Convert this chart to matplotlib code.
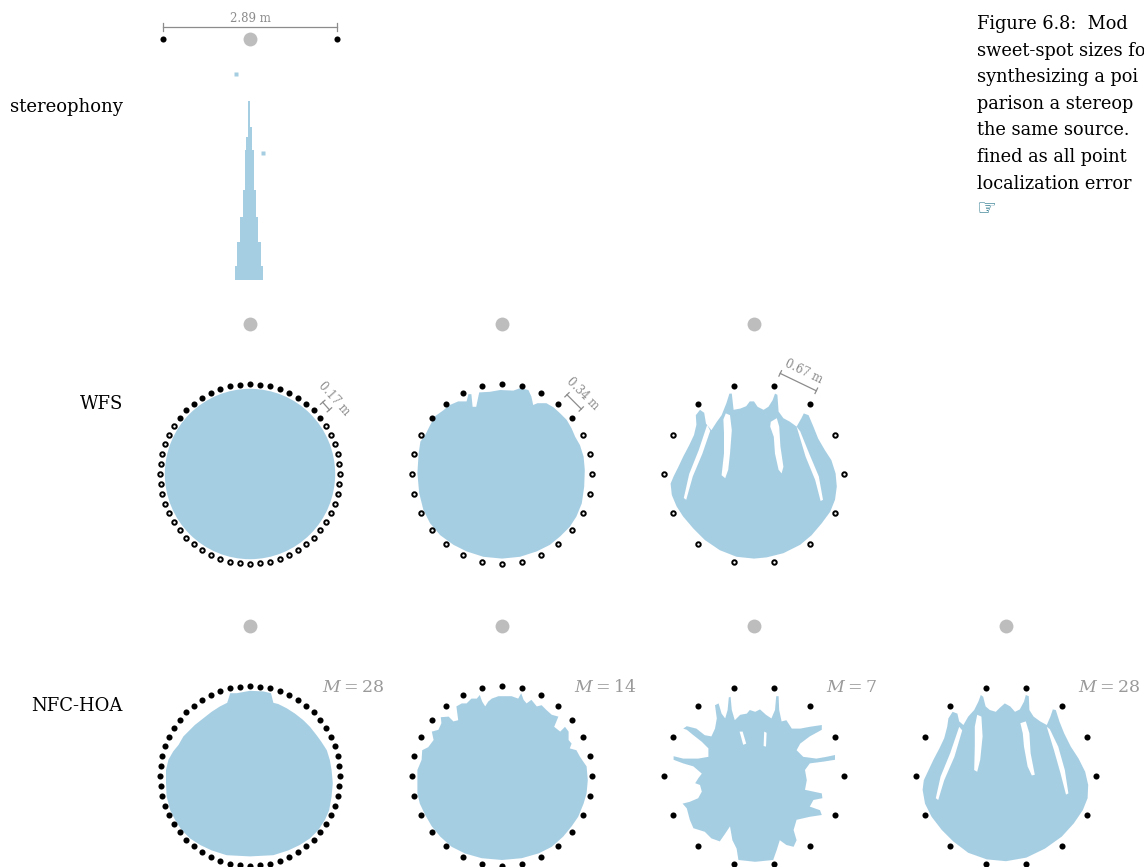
import numpy as np
import matplotlib
matplotlib.use("Agg")
import matplotlib.pyplot as plt

W, H, DPI = 1144, 867, 100
PX = 60.0  # pixels per metre

BLUE = '#a6cee3'
GREY_SRC = '#bdbdbd'
GREY_TXT = '#8c8c8c'
GREY_M = '#9a9a9a'
SERIF = ['DejaVu Serif']

# ---------------- data ----------------
ROW_LABELS = ['stereophony', 'WFS', 'NFC-HOA']
R_ARRAY = 1.5
SOURCE = (0.0, 2.5)

STEREO_SPK_X = [-1.445, 1.445]
STEREO_SPK_Y = 2.5
STEREO_LABEL = '2.89 m'
STEREO_BAND_TOP = [1.46, 1.04, 0.87, 0.65, -0.02, -0.46, -0.88, -1.29]
STEREO_BOTTOM = -1.52
STEREO_LEFT = [-0.04, -0.04, -0.06, -0.08, -0.12, -0.17, -0.21, -0.25]
STEREO_RIGHT = [0.00, 0.03, 0.04, 0.07, 0.10, 0.13, 0.18, 0.22]
STEREO_DOTS_X = [-0.23, 0.21]
STEREO_DOTS_Y = [1.92, 0.60]

WFS_N = [56, 28, 14]
WFS_SPACING = ['0.17 m', '0.34 m', '0.67 m']
WFS_DIM_PAIR = [6, 3, 2]

HOA_N = [56, 28, 14, 14]
HOA_M = [28, 14, 7, 28]

WFS56_RADIUS = 1.42

WFS28_BLOB = [(-1.41, 0.01), (-1.39, 0.34), (-1.36, 0.54), (-1.28, 0.65), (-1.21, 0.79),
              (-1.12, 0.96), (-0.98, 1.06), (-0.87, 1.15), (-0.73, 1.21), (-0.59, 1.21),
              (-0.56, 1.33), (-0.51, 1.33), (-0.49, 1.12), (-0.43, 1.12), (-0.38, 1.36),
              (-0.20, 1.37), (-0.03, 1.40), (0.19, 1.39), (0.30, 1.43), (0.44, 1.40),
              (0.49, 1.29), (0.52, 1.15), (0.59, 1.18), (0.74, 1.18), (0.86, 1.11),
              (0.97, 1.01), (1.08, 0.90), (1.16, 0.76), (1.22, 0.62), (1.30, 0.48),
              (1.36, 0.29), (1.38, 0.07), (1.37, -0.21), (1.33, -0.49), (1.24, -0.71),
              (1.13, -0.88), (0.97, -1.04), (0.80, -1.18), (0.58, -1.29), (0.30, -1.38),
              (0.00, -1.41), (-0.31, -1.38), (-0.59, -1.29), (-0.81, -1.18), (-1.03, -1.02),
              (-1.20, -0.82), (-1.31, -0.60), (-1.38, -0.32)]

WFS14_BLOB = [(0.00, -1.41), (-0.29, -1.38), (-0.57, -1.27), (-0.82, -1.10), (-1.01, -0.91),
              (-1.18, -0.71), (-1.29, -0.54), (-1.37, -0.35), (-1.39, -0.16), (-1.34, -0.04),
              (-1.26, 0.12), (-1.18, 0.29), (-1.08, 0.48), (-1.00, 0.65), (-0.96, 0.82),
              (-0.97, 0.98), (-0.90, 1.07), (-0.83, 1.02), (-0.80, 0.84), (-0.71, 0.73),
              (-0.62, 0.87), (-0.54, 0.98), (-0.46, 1.18), (-0.41, 1.34), (-0.37, 1.34),
              (-0.34, 1.07), (-0.23, 1.09), (-0.13, 1.13), (-0.07, 1.21), (0.00, 1.21),
              (0.06, 1.12), (0.16, 1.07), (0.24, 1.12), (0.31, 1.23), (0.35, 1.34),
              (0.39, 1.32), (0.41, 1.04), (0.49, 0.93), (0.60, 0.87), (0.71, 0.79),
              (0.79, 0.93), (0.83, 1.01), (0.91, 0.98), (0.99, 0.79), (1.07, 0.59),
              (1.18, 0.40), (1.29, 0.23), (1.36, 0.01), (1.38, -0.21), (1.35, -0.43),
              (1.27, -0.63), (1.13, -0.82), (0.96, -1.02), (0.77, -1.18), (0.49, -1.32),
              (0.21, -1.39)]
WFS14_HOLES = [
    [(-0.47, 1.01), (-0.40, 0.98), (-0.37, 0.73), (-0.40, 0.34), (-0.43, 0.07),
     (-0.48, -0.07), (-0.54, -0.02), (-0.50, 0.34), (-0.50, 0.68), (-0.51, 0.91)],
    [(0.28, 0.87), (0.38, 0.93), (0.42, 0.79), (0.44, 0.46), (0.49, 0.12),
     (0.46, 0.01), (0.41, 0.07), (0.35, 0.34), (0.33, 0.62), (0.27, 0.79)],
    [(-0.78, 0.82), (-0.73, 0.72), (-0.86, 0.34), (-1.02, -0.04), (-1.13, -0.43),
     (-1.17, -0.40), (-1.08, 0.00), (-0.92, 0.40)],
    [(0.71, 0.79), (0.77, 0.71), (0.92, 0.34), (1.08, -0.04), (1.15, -0.43),
     (1.11, -0.45), (1.02, -0.10), (0.86, 0.29)],
]

HOA56_BLOB = [(0.00, 1.42), (-0.22, 1.38), (-0.33, 1.38), (-0.38, 1.22), (-0.50, 1.16),
              (-0.64, 1.07), (-0.78, 0.96), (-0.92, 0.85), (-1.00, 0.77), (-1.11, 0.66),
              (-1.19, 0.52), (-1.28, 0.41), (-1.36, 0.27), (-1.40, 0.10), (-1.40, -0.12),
              (-1.39, -0.34), (-1.33, -0.57), (-1.25, -0.73), (-1.14, -0.90), (-1.00, -1.04),
              (-0.83, -1.15), (-0.64, -1.24), (-0.39, -1.32), (0.00, -1.34), (0.39, -1.32),
              (0.64, -1.24), (0.83, -1.15), (1.00, -1.04), (1.14, -0.90), (1.25, -0.73),
              (1.32, -0.57), (1.36, -0.34), (1.38, -0.12), (1.36, 0.10), (1.33, 0.27),
              (1.28, 0.43), (1.19, 0.57), (1.11, 0.68), (1.00, 0.82), (0.89, 0.93),
              (0.75, 1.04), (0.61, 1.13), (0.47, 1.20), (0.39, 1.22), (0.35, 1.38),
              (0.22, 1.41)]

HOA28_BLOB = [(-1.41, -0.29), (-1.41, 0.10), (-1.34, 0.27), (-1.33, 0.43), (-1.23, 0.48),
              (-1.14, 0.60), (-1.17, 0.74), (-1.06, 0.77), (-1.01, 0.88), (-1.02, 0.98),
              (-0.89, 0.99), (-0.81, 0.91), (-0.73, 0.93), (-0.76, 1.16), (-0.67, 1.21),
              (-0.59, 1.21), (-0.51, 1.29), (-0.42, 1.29), (-0.37, 1.35), (-0.33, 1.24),
              (-0.28, 1.16), (-0.23, 1.24), (-0.17, 1.29), (-0.06, 1.33), (0.16, 1.33),
              (0.27, 1.29), (0.32, 1.38), (0.36, 1.27), (0.41, 1.21), (0.49, 1.27),
              (0.58, 1.16), (0.66, 1.18), (0.74, 1.10), (0.83, 1.02), (0.94, 0.99),
              (0.87, 0.82), (0.97, 0.74), (1.05, 0.82), (1.11, 0.74), (1.11, 0.60),
              (1.16, 0.54), (1.13, 0.46), (1.24, 0.43), (1.30, 0.32), (1.41, 0.16),
              (1.43, -0.07), (1.41, -0.29), (1.36, -0.46), (1.27, -0.68), (1.16, -0.84),
              (1.02, -1.01), (0.83, -1.18), (0.61, -1.29), (0.33, -1.37), (0.00, -1.40),
              (-0.34, -1.37), (-0.62, -1.29), (-0.84, -1.18), (-1.03, -1.01), (-1.17, -0.84),
              (-1.28, -0.65), (-1.37, -0.46)]

HOA14_M7_BLOB = [(0.02, -1.43), (-0.26, -1.40), (-0.29, -1.21), (-0.36, -1.07), (-0.40, -0.84),
                 (-0.48, -0.96), (-0.57, -1.09), (-0.71, -1.04), (-0.82, -0.93), (-1.01, -0.87),
                 (-1.07, -0.73), (-1.12, -0.54), (-1.19, -0.46), (-1.07, -0.43), (-0.93, -0.37),
                 (-0.87, -0.26), (-0.90, -0.15), (-0.98, -0.12), (-0.93, -0.04), (-0.87, 0.04),
                 (-1.01, 0.16), (-1.18, 0.21), (-1.34, 0.27), (-1.34, 0.33), (-1.18, 0.29),
                 (-0.93, 0.29), (-0.76, 0.32), (-0.76, 0.46), (-0.87, 0.57), (-1.01, 0.68),
                 (-1.12, 0.77), (-1.18, 0.79), (-1.12, 0.83), (-0.96, 0.79), (-0.82, 0.68),
                 (-0.71, 0.66), (-0.65, 0.79), (-0.62, 0.96), (-0.65, 1.18), (-0.59, 1.21),
                 (-0.54, 1.04), (-0.48, 0.96), (-0.44, 1.10), (-0.42, 1.31), (-0.39, 1.32),
                 (-0.37, 1.10), (-0.32, 0.93), (-0.23, 1.02), (-0.12, 1.04), (-0.07, 1.10),
                 (0.02, 1.07), (0.10, 1.11), (0.20, 1.02), (0.29, 0.96), (0.35, 1.10),
                 (0.37, 1.33), (0.41, 1.33), (0.42, 1.10), (0.46, 0.91), (0.54, 0.93),
                 (0.63, 0.79), (0.77, 0.79), (0.93, 0.82), (1.13, 0.85), (1.13, 0.77),
                 (0.93, 0.66), (0.77, 0.54), (0.71, 0.43), (0.82, 0.32), (1.04, 0.29),
                 (1.21, 0.32), (1.35, 0.35), (1.35, 0.27), (1.16, 0.24), (0.93, 0.21),
                 (0.85, 0.10), (0.88, -0.07), (0.85, -0.23), (0.99, -0.26), (1.13, -0.29),
                 (1.14, -0.37), (0.99, -0.40), (0.93, -0.51), (1.10, -0.57), (1.13, -0.65),
                 (0.93, -0.68), (0.71, -0.73), (0.66, -0.90), (0.71, -1.07), (0.66, -1.18),
                 (0.54, -1.15), (0.43, -1.07), (0.38, -1.23), (0.32, -1.40)]
HOA14_M7_HOLES = [
    [(-0.24, 0.74), (-0.19, 0.74), (-0.13, 0.54), (-0.18, 0.52)],
    [(0.17, 0.74), (0.21, 0.72), (0.20, 0.49), (0.16, 0.50)],
]

HOA14_M28_BLOB = [(0.00, -1.42), (-0.32, -1.39), (-0.63, -1.28), (-0.88, -1.09), (-1.07, -0.90),
                  (-1.24, -0.68), (-1.35, -0.46), (-1.39, -0.23), (-1.37, -0.07), (-1.29, 0.10),
                  (-1.21, 0.27), (-1.11, 0.46), (-1.03, 0.63), (-0.98, 0.82), (-0.96, 0.96),
                  (-0.89, 1.07), (-0.81, 1.04), (-0.78, 0.91), (-0.71, 0.85), (-0.63, 0.99),
                  (-0.53, 1.10), (-0.46, 1.24), (-0.42, 1.35), (-0.38, 1.32), (-0.34, 1.16),
                  (-0.27, 1.10), (-0.17, 1.07), (-0.10, 1.14), (-0.02, 1.21), (0.07, 1.16),
                  (0.15, 1.07), (0.23, 1.11), (0.30, 1.24), (0.33, 1.35), (0.38, 1.33),
                  (0.39, 1.10), (0.46, 0.99), (0.57, 0.91), (0.68, 0.85), (0.74, 0.99),
                  (0.78, 1.11), (0.83, 1.10), (0.89, 0.91), (0.97, 0.71), (1.08, 0.49),
                  (1.21, 0.29), (1.32, 0.07), (1.37, -0.15), (1.36, -0.37), (1.28, -0.57),
                  (1.13, -0.79), (0.93, -1.01), (0.65, -1.21), (0.34, -1.36)]
HOA14_M28_HOLES = [
    [(-0.48, 1.02), (-0.41, 0.99), (-0.39, 0.66), (-0.43, 0.27), (-0.48, 0.07),
     (-0.53, 0.10), (-0.52, 0.49), (-0.52, 0.82)],
    [(0.24, 0.88), (0.33, 0.91), (0.39, 0.71), (0.41, 0.38), (0.48, 0.02),
     (0.43, 0.01), (0.36, 0.16), (0.30, 0.49), (0.28, 0.71)],
    [(-0.78, 0.82), (-0.73, 0.76), (-0.86, 0.32), (-1.03, -0.07), (-1.13, -0.40),
     (-1.17, -0.37), (-1.09, -0.01), (-0.93, 0.38)],
    [(0.68, 0.82), (0.73, 0.78), (0.87, 0.49), (0.98, 0.10), (1.04, -0.29),
     (1.00, -0.31), (0.91, 0.04), (0.80, 0.43)],
]

# caption as visible in the reference (cut by the figure's right edge)
CAPTION_LINES = ['Figure 6.8:  Mod',
                 'sweet-spot sizes fo',
                 'synthesizing a poi',
                 'parison a stereop',
                 'the same source.',
                 'fined as all point',
                 'localization error']

# ---------------- layout (pixels) ----------------
STEREO_C = (250, 189)
WFS_CX = [250, 502, 754]
WFS_CY = 474
HOA_CX = [250, 502, 754, 1006]
HOA_CY = 776

plt.rcParams['mathtext.fontset'] = 'dejavuserif'
fig = plt.figure(figsize=(W / DPI, H / DPI), dpi=DPI)
fig.patch.set_facecolor('white')


def ftext(xp, yp, s, **kw):
    return fig.text(xp / W, 1 - yp / H, s, **kw)


def panel(cx, cy, half=2.1, top=2.9, bottom=-1.7):
    wpx = 2 * half * PX
    hpx = (top - bottom) * PX
    left = cx - half * PX
    toppx = cy - top * PX
    ax = fig.add_axes([left / W, 1 - (toppx + hpx) / H, wpx / W, hpx / H])
    ax.set_xlim(-half, half)
    ax.set_ylim(bottom, top)
    ax.set_aspect('equal')
    ax.axis('off')
    return ax


def speakers(N):
    phi = 2 * np.pi * np.arange(N) / N
    return R_ARRAY * np.cos(phi), R_ARRAY * np.sin(phi)


def draw_source(ax):
    ax.plot([SOURCE[0]], [SOURCE[1]], 'o', ms=10, color=GREY_SRC, mec='none', clip_on=False, zorder=5)


def draw_poly(ax, pts, color):
    xs, ys = zip(*pts)
    ax.fill(xs, ys, color=color, lw=0, zorder=2 if color == BLUE else 3)


def draw_filled(ax, x, y):
    ax.plot(x, y, 'o', ms=4.4, color='black', mec='black', mew=0, ls='none', zorder=6, clip_on=False)


def draw_hollow(ax, x, y):
    ax.plot(x, y, 'o', ms=3.2, mfc='white', mec='black', mew=1.4, ls='none', zorder=6, clip_on=False)


# ---------------- stereophony ----------------
ax = panel(*STEREO_C, top=3.1)
edges = STEREO_BAND_TOP + [STEREO_BOTTOM]
poly = []
for i, xl in enumerate(STEREO_LEFT):
    poly += [(xl, edges[i]), (xl, edges[i + 1])]
for i in range(len(STEREO_RIGHT) - 1, -1, -1):
    poly += [(STEREO_RIGHT[i], edges[i + 1]), (STEREO_RIGHT[i], edges[i])]
draw_poly(ax, poly, BLUE)
ax.plot(STEREO_DOTS_X, STEREO_DOTS_Y, 's', ms=2.5, color=BLUE, mec='none', zorder=2)
draw_source(ax)
draw_filled(ax, STEREO_SPK_X, [STEREO_SPK_Y] * 2)
yb = STEREO_SPK_Y + 0.2
ax.plot(STEREO_SPK_X, [yb, yb], color=GREY_TXT, lw=0.9, clip_on=False)
for xs in STEREO_SPK_X:
    ax.plot([xs, xs], [yb - 0.06, yb + 0.06], color=GREY_TXT, lw=0.9, clip_on=False)
ax.text(0, yb + 0.04, STEREO_LABEL, ha='center', va='bottom', color=GREY_TXT,
        fontsize=8.5, family=SERIF, clip_on=False)

# ---------------- WFS ----------------
wfs_blobs = [None, WFS28_BLOB, WFS14_BLOB]
wfs_holes = [[], [], WFS14_HOLES]
for j, N in enumerate(WFS_N):
    ax = panel(WFS_CX[j], WFS_CY)
    if j == 0:
        ax.add_patch(plt.Circle((0, 0), WFS56_RADIUS, color=BLUE, lw=0, zorder=2))
    else:
        draw_poly(ax, wfs_blobs[j], BLUE)
    for h in wfs_holes[j]:
        draw_poly(ax, h, 'white')
    draw_source(ax)
    x, y = speakers(N)
    # active loudspeakers of WFS: those facing the virtual point source
    active = (x * SOURCE[0] + y * SOURCE[1]) > R_ARRAY ** 2
    draw_filled(ax, x[active], y[active])
    draw_hollow(ax, x[~active], y[~active])
    # loudspeaker spacing annotation
    k = WFS_DIM_PAIR[j]
    p1 = np.array([x[k], y[k]])
    p2 = np.array([x[k + 1], y[k + 1]])
    mid = (p1 + p2) / 2
    u = mid / np.linalg.norm(mid)
    shift = (1.70 - np.linalg.norm(mid)) * u
    a, b = p1 + shift, p2 + shift
    ax.plot([a[0], b[0]], [a[1], b[1]], color=GREY_TXT, lw=0.9, clip_on=False)
    for e in (a, b):
        ax.plot([e[0] - 0.05 * u[0], e[0] + 0.05 * u[0]], [e[1] - 0.05 * u[1], e[1] + 0.05 * u[1]],
                color=GREY_TXT, lw=0.9, clip_on=False)
    d = a - b
    rot = np.degrees(np.arctan2(d[1], d[0]))
    if rot > 90:
        rot -= 180
    if rot < -90:
        rot += 180
    tp = u * 1.89
    ax.text(tp[0], tp[1], WFS_SPACING[j], rotation=rot, rotation_mode='anchor',
            ha='center', va='center', color=GREY_TXT, fontsize=8.3, family=SERIF, clip_on=False)

# ---------------- NFC-HOA ----------------
hoa_blobs = [HOA56_BLOB, HOA28_BLOB, HOA14_M7_BLOB, HOA14_M28_BLOB]
hoa_holes = [[], [], HOA14_M7_HOLES, HOA14_M28_HOLES]
for j, N in enumerate(HOA_N):
    ax = panel(HOA_CX[j], HOA_CY)
    draw_poly(ax, hoa_blobs[j], BLUE)
    for h in hoa_holes[j]:
        draw_poly(ax, h, 'white')
    draw_source(ax)
    x, y = speakers(N)
    draw_filled(ax, x, y)
    ax.text(1.2, 1.48, r'$M = %d$' % HOA_M[j], ha='left', va='center', color=GREY_M,
            fontsize=12.5, clip_on=False)

# ---------------- labels & caption ----------------
ftext(123, 112, ROW_LABELS[0], ha='right', va='baseline', fontsize=13, family=SERIF)
ftext(123, 409, ROW_LABELS[1], ha='right', va='baseline', fontsize=13, family=SERIF)
ftext(123, 711, ROW_LABELS[2], ha='right', va='baseline', fontsize=13, family=SERIF)

for i, line in enumerate(CAPTION_LINES):
    ftext(977, 29 + 26.6 * i, line, ha='left', va='baseline', fontsize=12.8, family=SERIF)
ftext(976, 215, '\u261E', ha='left', va='baseline', fontsize=16, color='#1b6e84',
      family=['DejaVu Sans'])

fig.savefig('out.png', dpi=DPI, facecolor='white')
